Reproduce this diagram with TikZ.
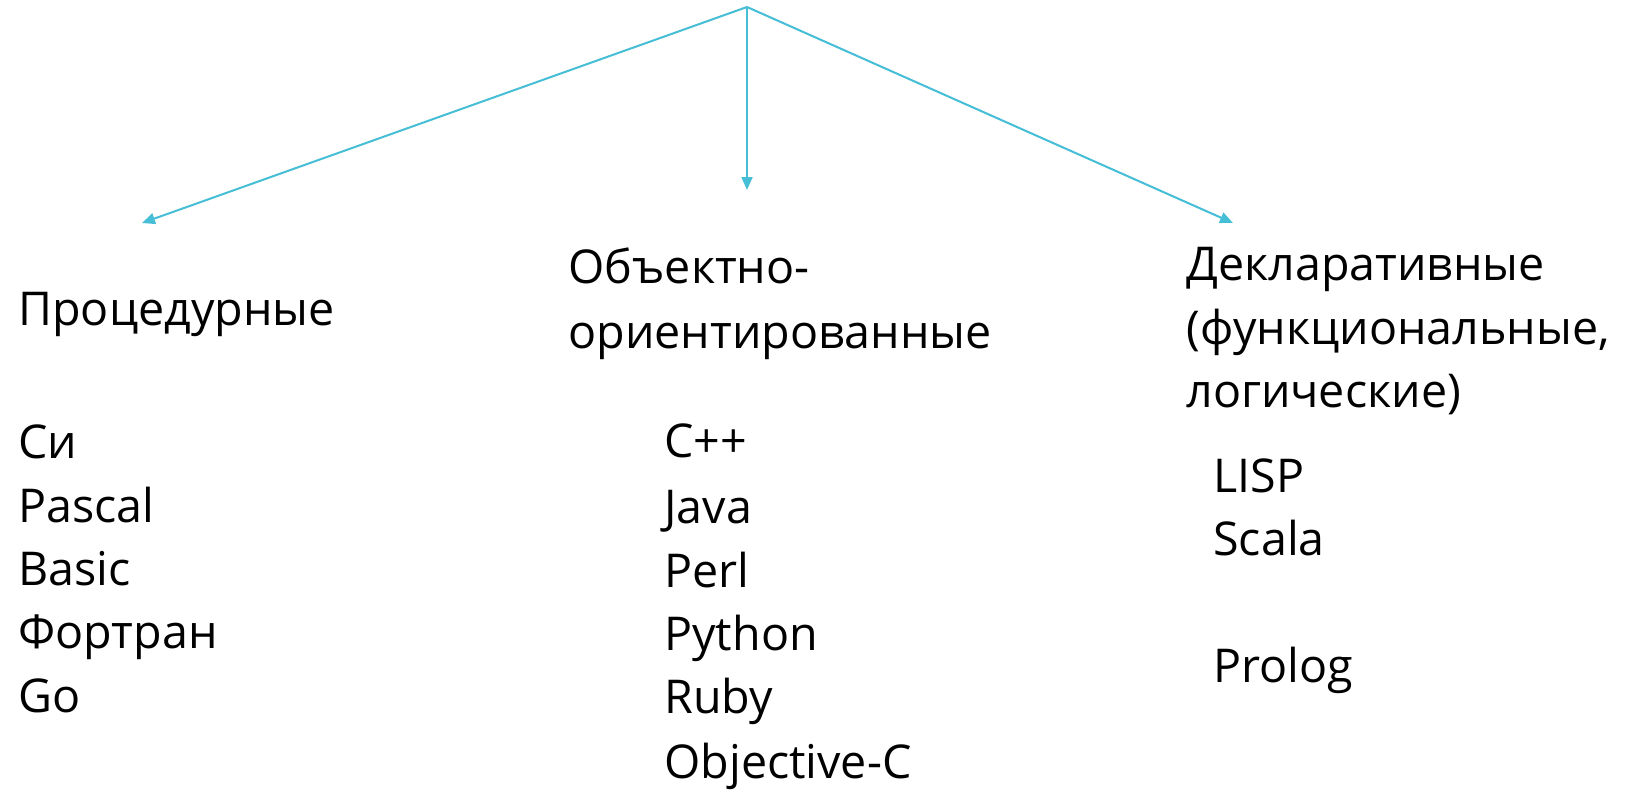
\documentclass[tikz,border=0pt]{standalone}
\usepackage{fontspec}
\setmainfont{Open Sans}
\usetikzlibrary{arrows.meta}
\definecolor{linkblue}{RGB}{70,190,214}
\begin{document}
\begin{tikzpicture}[x=0.5pt,y=-0.5pt,
  label/.style={anchor=base west,inner sep=0pt,font=\fontsize{23.3}{28}\selectfont},
  branch/.style={draw=linkblue,line width=1pt,-{Triangle[length=6.5pt,width=5.5pt]}}]
\useasboundingbox (0,0) rectangle (1639,793);

% root of the classification and the tips of its branches
\coordinate (root) at (747,7);
\coordinate (tipL) at (142,223);
\coordinate (tipM) at (747,190);
\coordinate (tipR) at (1233,223);

\draw[branch] (root) -- (tipL);
\draw[branch] (root) -- (tipM);
\draw[branch] (root) -- (tipR);

% procedural languages
\node[label] (proc) at (18,325) {Процедурные};
\node[label] (c) at (18,458) {Си};
\node[label] (pascal) at (18,522) {Pascal};
\node[label] (basic) at (18,585) {Basic};
\node[label] (fortran) at (18,648) {Фортран};
\node[label] (go) at (18,712) {Go};

% object-oriented languages
\node[label] (oo1) at (568,283) {Объектно-};
\node[label] (oo2) at (568,348) {ориентированные};
\node[label] (cpp) at (664,457) {C++};
\node[label] (java) at (664,523) {Java};
\node[label] (perl) at (664,587) {Perl};
\node[label] (python) at (664,650) {Python};
\node[label] (ruby) at (664,713) {Ruby};
\node[label] (objc) at (664,778) {Objective-C};

% declarative languages
\node[label] (decl1) at (1186,280) {Декларативные};
\node[label] (decl2) at (1186,344) {(функциональные,};
\node[label] (decl3) at (1186,407) {логические)};
\node[label] (lisp) at (1213,492) {LISP};
\node[label] (scala) at (1213,555) {Scala};
\node[label] (prolog) at (1213,682) {Prolog};
\end{tikzpicture}
\end{document}
